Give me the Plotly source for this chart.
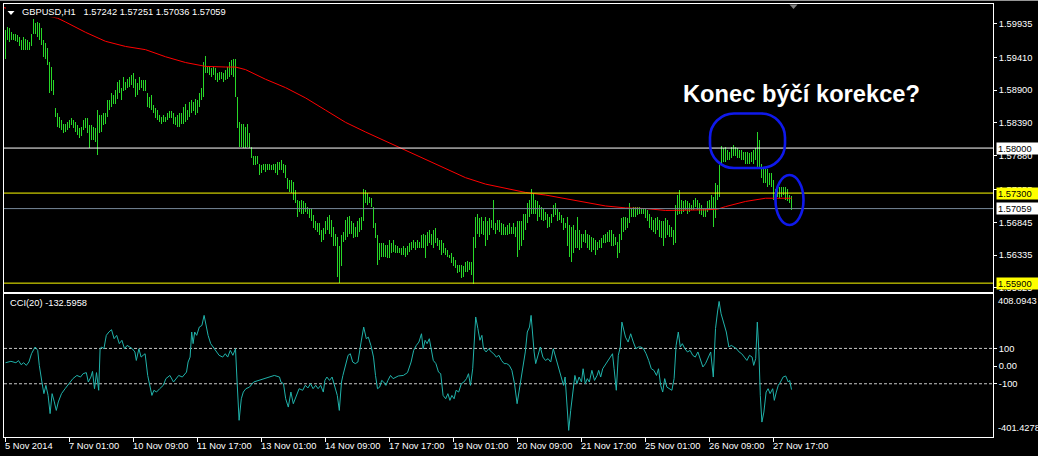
import plotly.graph_objects as go

# ---------------- data ----------------
highs = [
    1.5983, 1.5989, 1.5986, 1.5981, 1.5978, 1.5978, 1.5976, 1.5973, 1.5968, 1.5973,
    1.5970, 1.5968, 1.5965, 1.5978, 1.6001, 1.5994, 1.5996, 1.5995, 1.5986, 1.5968,
    1.5963, 1.5955, 1.5934, 1.5926, 1.5906, 1.5862, 1.5854, 1.5849, 1.5844, 1.5838,
    1.5838, 1.5841, 1.5844, 1.5846, 1.5844, 1.5841, 1.5836, 1.5831, 1.5833, 1.5844,
    1.5846, 1.5846, 1.5836, 1.5836, 1.5833, 1.5831, 1.5859, 1.5851, 1.5851, 1.5854,
    1.5854, 1.5875, 1.5875, 1.5885, 1.5882, 1.5890, 1.5903, 1.5906, 1.5893, 1.5911,
    1.5903, 1.5908, 1.5911, 1.5913, 1.5916, 1.5908, 1.5901, 1.5911, 1.5906, 1.5906,
    1.5906, 1.5885, 1.5880, 1.5882, 1.5867, 1.5862, 1.5859, 1.5851, 1.5849, 1.5851,
    1.5849, 1.5854, 1.5857, 1.5857, 1.5854, 1.5849, 1.5851, 1.5854, 1.5854, 1.5864,
    1.5869, 1.5859, 1.5872, 1.5875, 1.5872, 1.5877, 1.5875, 1.5885, 1.5893, 1.5934,
    1.5943, 1.5926, 1.5926, 1.5924, 1.5926, 1.5924, 1.5916, 1.5919, 1.5919, 1.5916,
    1.5921, 1.5926, 1.5934, 1.5937, 1.5938, 1.5939, 1.5880, 1.5841, 1.5838, 1.5838,
    1.5833, 1.5838, 1.5823, 1.5802, 1.5787, 1.5787, 1.5787, 1.5776, 1.5774, 1.5776,
    1.5776, 1.5776, 1.5776, 1.5774, 1.5776, 1.5776, 1.5779, 1.5779, 1.5781, 1.5776,
    1.5774, 1.5753, 1.5750, 1.5750, 1.5748, 1.5735, 1.5719, 1.5717, 1.5719, 1.5717,
    1.5714, 1.5709, 1.5706, 1.5706, 1.5696, 1.5686, 1.5683, 1.5683, 1.5673, 1.5675,
    1.5686, 1.5693, 1.5696, 1.5688, 1.5678, 1.5667, 1.5662, 1.5647, 1.5665, 1.5670,
    1.5688, 1.5693, 1.5694, 1.5686, 1.5683, 1.5678, 1.5686, 1.5691, 1.5693, 1.5736,
    1.5735, 1.5730, 1.5724, 1.5722, 1.5709, 1.5683, 1.5665, 1.5652, 1.5652, 1.5652,
    1.5649, 1.5649, 1.5657, 1.5652, 1.5657, 1.5649, 1.5647, 1.5644, 1.5644, 1.5647,
    1.5644, 1.5647, 1.5652, 1.5654, 1.5657, 1.5654, 1.5657, 1.5654, 1.5665, 1.5667,
    1.5665, 1.5670, 1.5673, 1.5667, 1.5673, 1.5675, 1.5660, 1.5657, 1.5657, 1.5652,
    1.5644, 1.5642, 1.5634, 1.5637, 1.5631, 1.5626, 1.5618, 1.5618, 1.5618, 1.5616,
    1.5623, 1.5624, 1.5623, 1.5623, 1.5661, 1.5693, 1.5698, 1.5691, 1.5693, 1.5686,
    1.5693, 1.5686, 1.5691, 1.5688, 1.5720, 1.5683, 1.5688, 1.5688, 1.5683, 1.5682,
    1.5678, 1.5680, 1.5683, 1.5678, 1.5683, 1.5678, 1.5686, 1.5686, 1.5686, 1.5698,
    1.5698, 1.5714, 1.5719, 1.5737, 1.5730, 1.5719, 1.5717, 1.5711, 1.5709, 1.5706,
    1.5701, 1.5698, 1.5693, 1.5698, 1.5711, 1.5714, 1.5706, 1.5701, 1.5696, 1.5691,
    1.5683, 1.5693, 1.5680, 1.5678, 1.5680, 1.5673, 1.5693, 1.5673, 1.5667, 1.5667,
    1.5673, 1.5667, 1.5665, 1.5662, 1.5660, 1.5657, 1.5654, 1.5657, 1.5660, 1.5665,
    1.5667, 1.5670, 1.5673, 1.5673, 1.5667, 1.5662, 1.5654, 1.5667, 1.5691, 1.5693,
    1.5693, 1.5691, 1.5714, 1.5706, 1.5709, 1.5709, 1.5709, 1.5709, 1.5706, 1.5706,
    1.5706, 1.5704, 1.5698, 1.5693, 1.5688, 1.5691, 1.5693, 1.5688, 1.5686, 1.5686,
    1.5691, 1.5688, 1.5680, 1.5678, 1.5673, 1.5711, 1.5727, 1.5735, 1.5719, 1.5717,
    1.5719, 1.5717, 1.5714, 1.5711, 1.5719, 1.5722, 1.5720, 1.5714, 1.5711, 1.5706,
    1.5706, 1.5717, 1.5720, 1.5727, 1.5724, 1.5745, 1.5742, 1.5774, 1.5803, 1.5800,
    1.5802, 1.5797, 1.5794, 1.5802, 1.5805, 1.5802, 1.5800, 1.5797, 1.5797, 1.5794,
    1.5794, 1.5794, 1.5792, 1.5794, 1.5797, 1.5800, 1.5825, 1.5812, 1.5776, 1.5771,
    1.5768, 1.5768, 1.5761, 1.5761, 1.5750, 1.5737, 1.5735, 1.5740, 1.5740, 1.5740,
    1.5740, 1.5737, 1.5727, 1.57251,
]
lows = [
    1.5939, 1.5968, 1.5965, 1.5968, 1.5968, 1.5967, 1.5965, 1.5958, 1.5953, 1.5953,
    1.5953, 1.5952, 1.5953, 1.5958, 1.5978, 1.5978, 1.5973, 1.5968, 1.5960, 1.5942,
    1.5939, 1.5929, 1.5885, 1.5888, 1.5882, 1.5849, 1.5833, 1.5831, 1.5828, 1.5823,
    1.5825, 1.5828, 1.5831, 1.5836, 1.5831, 1.5825, 1.5820, 1.5815, 1.5818, 1.5828,
    1.5831, 1.5823, 1.5800, 1.5812, 1.5812, 1.5810, 1.5789, 1.5823, 1.5825, 1.5836,
    1.5838, 1.5849, 1.5859, 1.5864, 1.5869, 1.5869, 1.5877, 1.5885, 1.5875, 1.5888,
    1.5890, 1.5893, 1.5895, 1.5898, 1.5893, 1.5880, 1.5882, 1.5890, 1.5893, 1.5888,
    1.5888, 1.5864, 1.5862, 1.5859, 1.5854, 1.5846, 1.5844, 1.5841, 1.5838, 1.5841,
    1.5841, 1.5844, 1.5846, 1.5846, 1.5838, 1.5836, 1.5833, 1.5833, 1.5838, 1.5838,
    1.5841, 1.5844, 1.5849, 1.5854, 1.5857, 1.5851, 1.5854, 1.5864, 1.5875, 1.5880,
    1.5916, 1.5916, 1.5913, 1.5911, 1.5913, 1.5906, 1.5903, 1.5906, 1.5908, 1.5902,
    1.5906, 1.5908, 1.5911, 1.5913, 1.5910, 1.5880, 1.5831, 1.5802, 1.5802, 1.5800,
    1.5800, 1.5802, 1.5800, 1.5784, 1.5774, 1.5774, 1.5776, 1.5758, 1.5761, 1.5766,
    1.5763, 1.5766, 1.5766, 1.5766, 1.5766, 1.5761, 1.5758, 1.5766, 1.5766, 1.5761,
    1.5753, 1.5737, 1.5732, 1.5730, 1.5719, 1.5714, 1.5693, 1.5701, 1.5698, 1.5698,
    1.5701, 1.5698, 1.5691, 1.5686, 1.5675, 1.5673, 1.5670, 1.5665, 1.5654, 1.5657,
    1.5667, 1.5673, 1.5667, 1.5662, 1.5647, 1.5647, 1.5600, 1.5591, 1.5616, 1.5654,
    1.5657, 1.5662, 1.5667, 1.5667, 1.5660, 1.5662, 1.5662, 1.5670, 1.5673, 1.5686,
    1.5714, 1.5711, 1.5714, 1.5709, 1.5675, 1.5660, 1.5618, 1.5626, 1.5631, 1.5631,
    1.5631, 1.5629, 1.5629, 1.5637, 1.5639, 1.5637, 1.5637, 1.5637, 1.5634, 1.5634,
    1.5631, 1.5634, 1.5639, 1.5642, 1.5644, 1.5642, 1.5644, 1.5644, 1.5644, 1.5644,
    1.5629, 1.5647, 1.5652, 1.5649, 1.5644, 1.5652, 1.5647, 1.5642, 1.5634, 1.5637,
    1.5634, 1.5631, 1.5629, 1.5621, 1.5616, 1.5613, 1.5605, 1.5608, 1.5598, 1.5600,
    1.5608, 1.5608, 1.5610, 1.5603, 1.5589, 1.5644, 1.5667, 1.5662, 1.5667, 1.5665,
    1.5647, 1.5657, 1.5665, 1.5675, 1.5673, 1.5667, 1.5673, 1.5670, 1.5665, 1.5665,
    1.5665, 1.5665, 1.5667, 1.5667, 1.5667, 1.5662, 1.5631, 1.5642, 1.5647, 1.5657,
    1.5673, 1.5683, 1.5693, 1.5698, 1.5698, 1.5698, 1.5686, 1.5693, 1.5688, 1.5686,
    1.5688, 1.5675, 1.5678, 1.5683, 1.5693, 1.5696, 1.5686, 1.5688, 1.5683, 1.5673,
    1.5675, 1.5647, 1.5631, 1.5623, 1.5637, 1.5644, 1.5644, 1.5642, 1.5644, 1.5654,
    1.5652, 1.5644, 1.5642, 1.5639, 1.5642, 1.5634, 1.5642, 1.5644, 1.5644, 1.5652,
    1.5652, 1.5654, 1.5654, 1.5647, 1.5647, 1.5649, 1.5629, 1.5637, 1.5657, 1.5670,
    1.5673, 1.5675, 1.5683, 1.5693, 1.5693, 1.5693, 1.5696, 1.5698, 1.5698, 1.5698,
    1.5691, 1.5686, 1.5675, 1.5673, 1.5670, 1.5667, 1.5673, 1.5662, 1.5660, 1.5647,
    1.5660, 1.5665, 1.5662, 1.5662, 1.5649, 1.5652, 1.5696, 1.5698, 1.5698, 1.5701,
    1.5704, 1.5698, 1.5701, 1.5704, 1.5704, 1.5709, 1.5704, 1.5698, 1.5696, 1.5693,
    1.5693, 1.5701, 1.5704, 1.5704, 1.5678, 1.5691, 1.5719, 1.5724, 1.5774, 1.5779,
    1.5779, 1.5781, 1.5781, 1.5784, 1.5787, 1.5787, 1.5784, 1.5784, 1.5781, 1.5781,
    1.5776, 1.5776, 1.5776, 1.5779, 1.5776, 1.5781, 1.5771, 1.5771, 1.5753, 1.5745,
    1.5745, 1.5740, 1.5742, 1.5740, 1.5719, 1.5717, 1.5724, 1.5722, 1.5724, 1.5727,
    1.5719, 1.5717, 1.5714, 1.57036,
]

# red moving average (bar index, price)
ma_bar = [-2, 0, 10, 20, 26, 30, 40, 50, 60, 70,
          80, 90, 100, 110, 115, 120, 130, 140, 150, 160,
          170, 180, 190, 200, 210, 220, 230, 240, 250, 260,
          270, 280, 290, 300, 310, 320, 330, 340, 350, 356,
          360, 370, 380, 393]
ma_val = [1.6019, 1.6018, 1.6012, 1.6006, 1.6002, 1.5996, 1.5980, 1.5966, 1.5958, 1.5953,
          1.5942, 1.5933, 1.5927, 1.5926, 1.5926, 1.5922, 1.5907, 1.5894, 1.5878, 1.5859,
          1.5840, 1.5825, 1.5811, 1.5796, 1.5783, 1.5769, 1.5754, 1.5744, 1.5738, 1.5731,
          1.5727, 1.5721, 1.5715, 1.5710, 1.5707, 1.5706, 1.5703, 1.5703, 1.5704, 1.5705,
          1.5709, 1.5717, 1.5722, 1.5722]

# CCI(20) (bar index, value)
cci_bar = [
    0, 2.7, 5.2, 6.5, 7.8, 9.1, 10.4, 11.7, 13.0, 14.8,
    16.1, 16.9, 18.2, 19.2, 20.2, 21.3, 22.3, 23.3, 24.4, 25.4,
    26.4, 28.0, 29.8, 31.6, 33.7, 35.7, 37.5, 38.8, 40.4, 41.4,
    42.7, 43.5, 44.5, 45.5, 46.6, 47.3, 48.1, 49.2, 50.4, 51.7,
    53.0, 54.3, 55.6, 56.9, 58.2, 59.5, 60.8, 62.1, 63.4, 64.7,
    65.4, 66.7, 67.8, 68.8, 69.8, 71.1, 72.4, 73.2, 74.2, 75.5,
    77.1, 78.9, 80.2, 82.2, 84.0, 85.3, 86.6, 88.4, 90.5, 91.3,
    92.3, 93.1, 93.8, 94.6, 95.6, 96.9, 98.2, 99.3, 100.3, 101.3,
    102.6, 103.9, 105.5, 106.8, 108.6, 109.9, 111.1, 112.4, 113.7, 115.0,
    115.8, 116.8, 117.9, 118.9, 120.2, 122.0, 124.1, 126.6, 129.2, 131.8,
    134.4, 137.0, 137.7, 139.0, 140.1, 141.4, 142.7, 143.9, 145.2, 146.8,
    148.6, 149.9, 151.2, 152.5, 153.8, 155.1, 156.3, 157.6, 158.9, 159.7,
    160.7, 162.0, 163.3, 164.6, 165.9, 166.9, 168.0, 168.7, 170.0, 171.3,
    172.4, 173.6, 174.9, 176.2, 177.8, 179.1, 180.4, 181.4, 182.7, 184.0,
    185.0, 186.0, 187.1, 188.1, 189.1, 190.2, 191.2, 192.5, 193.8, 195.1,
    196.4, 198.9, 201.0, 202.8, 204.1, 205.4, 206.7, 208.0, 208.8, 209.8,
    210.8, 211.9, 212.9, 213.9, 215.2, 216.5, 217.6, 218.8, 220.1, 221.2,
    222.2, 223.2, 224.3, 225.3, 226.6, 227.9, 229.2, 230.5, 231.5, 232.5,
    233.6, 234.4, 235.1, 236.2, 237.2, 238.2, 239.0, 240.3, 241.6, 242.9,
    244.1, 245.4, 246.7, 248.0, 249.3, 250.6, 251.9, 253.2, 254.5, 255.8,
    256.8, 257.8, 258.9, 259.9, 260.9, 262.0, 262.8, 263.5, 264.3, 265.1,
    266.1, 267.4, 268.7, 270.0, 271.3, 272.6, 273.9, 275.1, 276.4, 277.7,
    279.0, 279.8, 280.6, 281.6, 282.6, 283.7, 284.7, 285.7, 286.8, 288.0,
    288.8, 289.9, 290.9, 291.9, 293.2, 294.5, 295.8, 296.6, 297.6, 298.6,
    299.7, 301.0, 302.3, 303.5, 304.3, 305.4, 306.4, 307.4, 308.2, 309.2,
    310.0, 311.3, 312.6, 313.9, 315.2, 316.5, 317.7, 319.0, 320.3, 321.6,
    322.9, 324.2, 325.5, 326.5, 327.6, 328.6, 329.6, 330.7, 332.0, 333.2,
    334.3, 335.3, 336.4, 337.4, 338.4, 339.7, 341.0, 342.3, 343.6, 344.9,
    346.2, 347.5, 348.7, 350.0, 351.3, 352.6, 353.9, 355.0, 356.0, 356.8,
    357.8, 359.1, 360.4, 361.7, 362.9, 364.2, 365.5, 366.8, 368.1, 369.4,
    370.7, 372.0, 373.3, 374.1, 375.1, 375.9, 376.7, 377.4, 378.2, 379.2,
    380.3, 381.3, 382.3, 383.6, 384.4, 385.4, 386.4, 387.5, 388.8, 390.1,
    391.4, 392.1, 393.0,
]
cci_val = [
    19, 27, 19, 31, 8, 19, 4, 23, 70, 108,
    89, 4, -90, -156, -109, -166, -269, -156, -203, -251,
    -203, -156, -128, -100, -71, -53, -62, -43, -37, -90,
    -62, -30, -128, -37, -137, 98, 108, 98, 174, 193,
    206, 155, 174, 127, 146, 98, 117, 108, 98, 80,
    32, 98, 51, 61, 70, -53, -128, -166, -137, -147,
    -128, -109, -71, -53, -90, -71, -53, -62, -34, 23,
    51, 193, 127, 193, 174, 221, 230, 287, 221, 174,
    127, 108, 80, 61, 51, 70, 51, 89, 61, 98,
    -90, -307, -185, -147, -128, -119, -90, -81, -68, -62,
    -53, -62, -90, -100, -185, -232, -147, -213, -175, -128,
    -137, -109, -124, -100, -128, -109, -128, -109, -147, -81,
    -62, -81, -62, -109, -166, -251, -90, -53, 4, 61,
    70, 23, 14, 23, 136, 221, 155, 164, 117, 51,
    -53, -128, -119, -81, -90, -109, -81, -53, -71, -62,
    -56, -53, -37, 23, 89, 117, 136, 183, 98, 146,
    127, 155, 80, 32, 14, -34, -43, -166, -185, -156,
    -194, -166, -185, -137, -147, -100, -90, -71, -43, -109,
    -15, 146, 278, 212, 146, 174, 98, 80, 98, 80,
    70, 51, 61, 32, 14, 14, 4, -24, -100, -213,
    -147, -62, 4, 80, 193, 221, 287, 164, 80, 14,
    61, 108, 51, 32, 42, 23, 98, 51, 4, -43,
    -109, -62, -185, -364, -251, -128, -53, -100, -62, -90,
    -15, -100, -71, -90, -24, -81, -53, -24, -62, -15,
    4, 23, 51, 70, -15, -137, 61, 108, 249, 202,
    164, 136, 183, 136, 98, 108, 108, 98, 70, 32,
    -15, -24, -53, -15, -109, -147, -71, -119, -128, -137,
    -71, 117, 193, 108, 127, 98, 80, 89, 61, 51,
    80, 32, -5, 14, 51, 80, -62, 212, 306, 366,
    296, 249, 193, 108, 117, 108, 98, 80, 70, 51,
    32, 61, 51, 4, 42, 249, 80, -166, -317, -260,
    -147, -128, -156, -128, -194, -147, -109, -90, -62, -56,
    -90, -81, -133,
]

price_ticks = [1.59935, 1.59410, 1.58900, 1.58390, 1.57880, 1.57355, 1.56845, 1.56335, 1.55825]
cci_ticks = [100, 0, -100]
cci_tick_text = ["100", "0.00", "-100"]
cci_max, cci_min = 408.0943, -401.4278
time_ticks = [0, 32, 64, 96, 128, 160, 192, 224, 256, 288, 320, 352, 384]
time_labels = ["5 Nov 2014", "7 Nov 01:00", "10 Nov 09:00", "11 Nov 17:00", "13 Nov 01:00",
               "14 Nov 09:00", "17 Nov 17:00", "19 Nov 01:00", "20 Nov 09:00", "21 Nov 17:00",
               "25 Nov 01:00", "26 Nov 09:00", "27 Nov 17:00"]
header_text = "GBPUSD,H1\u00a0\u00a0 1.57242 1.57251 1.57036 1.57059"
cci_text = "CCI(20) -132.5958"
resist_level = 1.58000
support_level = 1.57300
bottom_level = 1.55900
bid_level = 1.57059
title_text = "Konec býčí korekce?"

# ---------------- layout geometry ----------------
W, H = 1038, 456
ML, MR, MT, MB = 4, 45, 4, 19
PW, PH = W - ML - MR, H - MT - MB


def xp(px):
    return (px - ML) / PW


def yp(py):
    return (H - MB - py) / PH


FONT = "Liberation Sans"
FS = 9.3
GREEN = "rgb(40,215,40)"
YELLOW = "#FFFF00"
BLUE = "rgb(15,25,235)"

bars = list(range(len(highs)))

fig = go.Figure()
fig.add_trace(go.Bar(
    x=bars, base=lows, y=[h - l for h, l in zip(highs, lows)], width=0.5,
    marker=dict(color=GREEN, line=dict(width=0)), xaxis="x", yaxis="y", hoverinfo="skip"))
fig.add_trace(go.Scatter(
    x=ma_bar, y=ma_val, mode="lines", line=dict(color="#FF0000", width=1),
    xaxis="x", yaxis="y", hoverinfo="skip"))
fig.add_trace(go.Scatter(
    x=cci_bar, y=cci_val, mode="lines", line=dict(color="#20B2AA", width=1),
    xaxis="x2", yaxis="y2", hoverinfo="skip"))

shapes = []
# window edge at the very top
shapes.append(dict(type="line", xref="paper", yref="paper", x0=xp(0), x1=xp(W), y0=yp(0.5), y1=yp(0.5),
                   line=dict(color="rgb(150,150,150)", width=1), layer="above"))
# horizontal price levels
for lvl, col in [(resist_level, "white"), (support_level, YELLOW), (bid_level, "#778899"), (bottom_level, YELLOW)]:
    shapes.append(dict(type="line", xref="paper", x0=0, x1=1, yref="y", y0=lvl, y1=lvl,
                       line=dict(color=col, width=1), layer="above"))
# CCI levels
for lvl in [100, -100]:
    shapes.append(dict(type="line", xref="paper", x0=0, x1=1, yref="y2", y0=lvl, y1=lvl,
                       line=dict(color="rgb(200,200,200)", width=1, dash="3px,2px"), layer="below"))
# black box behind the header text
shapes.append(dict(type="rect", xref="paper", yref="paper", x0=xp(6), x1=xp(223), y0=yp(17.5), y1=yp(5),
                   fillcolor="black", line=dict(width=0), layer="above"))
# header triangle
shapes.append(dict(type="path", xref="paper", yref="paper",
                   path=f"M {xp(7.5)},{yp(11)} L {xp(14.5)},{yp(11)} L {xp(11)},{yp(15)} Z",
                   fillcolor="white", line=dict(width=0), layer="above"))
# chart-shift marker
shapes.append(dict(type="path", xref="paper", yref="paper",
                   path=f"M {xp(789.5)},{yp(4.5)} L {xp(797.5)},{yp(4.5)} L {xp(793.5)},{yp(9)} Z",
                   fillcolor="rgb(128,128,128)", line=dict(width=0), layer="above"))


def rounded_rect(x0, y0, x1, y1, r):
    k = 0.5523 * r
    pts = [
        f"M {xp(x0 + r)},{yp(y0)}",
        f"L {xp(x1 - r)},{yp(y0)}",
        f"C {xp(x1 - r + k)},{yp(y0)} {xp(x1)},{yp(y0 + r - k)} {xp(x1)},{yp(y0 + r)}",
        f"L {xp(x1)},{yp(y1 - r)}",
        f"C {xp(x1)},{yp(y1 - r + k)} {xp(x1 - r + k)},{yp(y1)} {xp(x1 - r)},{yp(y1)}",
        f"L {xp(x0 + r)},{yp(y1)}",
        f"C {xp(x0 + r - k)},{yp(y1)} {xp(x0)},{yp(y1 - r + k)} {xp(x0)},{yp(y1 - r)}",
        f"L {xp(x0)},{yp(y0 + r)}",
        f"C {xp(x0)},{yp(y0 + r - k)} {xp(x0 + r - k)},{yp(y0)} {xp(x0 + r)},{yp(y0)} Z",
    ]
    return " ".join(pts)


shapes.append(dict(type="path", xref="paper", yref="paper", path=rounded_rect(710, 113.5, 785, 168, 24),
                   line=dict(color=BLUE, width=2.6), layer="above"))
shapes.append(dict(type="circle", xref="paper", yref="paper", x0=xp(775.5), x1=xp(803.5), y0=yp(225), y1=yp(175),
                   line=dict(color=BLUE, width=2.6), layer="above"))

annotations = []
annotations.append(dict(text=header_text, xref="paper", yref="paper", x=xp(19.5), y=yp(12.2),
                        xanchor="left", yanchor="middle", showarrow=False,
                        font=dict(family=FONT, size=FS, color="white")))
annotations.append(dict(text=cci_text, xref="paper", yref="paper", x=xp(7.5), y=yp(302.5),
                        xanchor="left", yanchor="middle", showarrow=False,
                        font=dict(family=FONT, size=FS, color="white")))
annotations.append(dict(text="<b>" + title_text + "</b>", xref="paper", yref="paper", x=xp(681), y=yp(94),
                        xanchor="left", yanchor="middle", showarrow=False,
                        font=dict(family=FONT, size=23.7, color="white")))
# price level labels on the axis
for lvl, bg in [(resist_level, "white"), (support_level, YELLOW), (bid_level, "white"), (bottom_level, YELLOW)]:
    annotations.append(dict(text=f"{lvl:.5f}", xref="paper", yref="y", x=xp(996), y=lvl,
                            xanchor="left", yanchor="middle", showarrow=False, align="left",
                            width=40, height=9, borderpad=1, bgcolor=bg,
                            font=dict(family=FONT, size=FS, color="black")))
# CCI scale max / min
annotations.append(dict(text=f"{cci_max:.4f}", xref="paper", yref="paper", x=xp(996), y=yp(301),
                        xanchor="left", yanchor="middle", showarrow=False,
                        font=dict(family=FONT, size=FS, color="white")))
annotations.append(dict(text=f"{cci_min:.4f}", xref="paper", yref="paper", x=xp(996), y=yp(427.5),
                        xanchor="left", yanchor="middle", showarrow=False,
                        font=dict(family=FONT, size=FS, color="white")))
# time labels
for tv, tl in zip(time_ticks, time_labels):
    annotations.append(dict(text=tl, xref="x2", yref="paper", x=tv, y=yp(446),
                            xanchor="left", yanchor="middle", showarrow=False, xshift=-3,
                            font=dict(family=FONT, size=FS, color="white")))

axis_common = dict(showgrid=False, zeroline=False, showline=True, mirror=True,
                   linecolor="white", linewidth=1)

fig.update_layout(
    width=W, height=H,
    margin=dict(l=ML, r=MR, t=MT, b=MB, pad=0),
    paper_bgcolor="black", plot_bgcolor="black",
    showlegend=False, bargap=0,
    xaxis=dict(domain=[0, 1], range=[-0.75, 493.75], anchor="y", showticklabels=False, ticks="",
               **axis_common),
    yaxis=dict(domain=[yp(291.5), 1], range=[1.5577, 1.6024], side="right", anchor="x",
               tickvals=price_ticks, ticktext=[f"{v:.5f}" for v in price_ticks],
               ticks="outside", ticklen=3, tickcolor="white",
               tickfont=dict(family=FONT, size=FS, color="white"), **axis_common),
    xaxis2=dict(domain=[0, 1], range=[-0.75, 493.75], anchor="y2", matches="x",
                tickvals=time_ticks, ticks="outside", ticklen=4, tickcolor="white",
                showticklabels=False, **axis_common),
    yaxis2=dict(domain=[0, yp(294)], range=[cci_min, cci_max], side="right", anchor="x2",
                tickvals=cci_ticks, ticktext=cci_tick_text, ticks="outside", ticklen=3,
                tickcolor="white", tickfont=dict(family=FONT, size=FS, color="white"),
                **axis_common),
    shapes=shapes,
    annotations=annotations,
)

fig.write_html(
    "out.html",
    config={"displayModeBar": False},
    post_script="document.body.style.margin='0';document.body.style.background='black';"
                "document.documentElement.style.overflow='hidden';",
)
